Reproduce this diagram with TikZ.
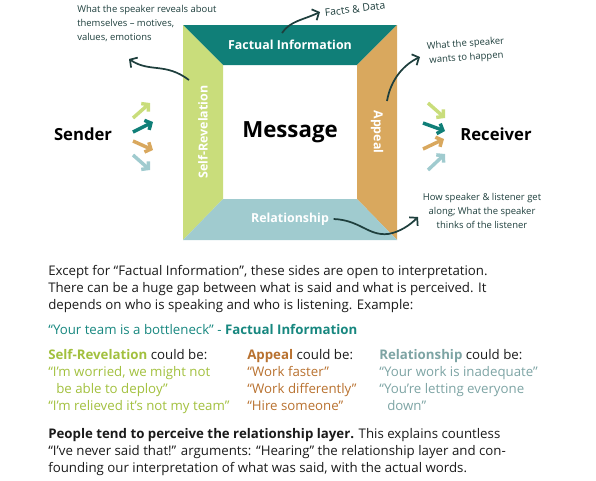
\documentclass[tikz,border=0pt]{standalone}
\usepackage{fontspec}
\setmainfont{Open Sans}
\usetikzlibrary{arrows.meta}

\definecolor{tealband}{HTML}{107F78}
\definecolor{greenband}{HTML}{C9DD7B}
\definecolor{orangeband}{HTML}{D9A85E}
\definecolor{blueband}{HTML}{A0CBCF}
\definecolor{notecol}{HTML}{1E3F3D}
\definecolor{bodycol}{HTML}{1A1A1A}
\definecolor{textgreen}{HTML}{A2C03E}
\definecolor{textorange}{HTML}{B8712F}
\definecolor{textblue}{HTML}{7DA4A4}
\definecolor{textteal}{HTML}{17877F}

\begin{document}
\begin{tikzpicture}[x=0.75pt,y=-0.75pt,
		band/.style={text=white,font=\bfseries\fontsize{9.3}{11}\selectfont},
		note/.style={text=notecol,inner sep=0pt,font=\fontsize{7.1}{10.5}\selectfont},
		hook/.style={notecol,line width=1.3pt,-{Straight Barb[length=4pt,width=9pt]}},
		flow/.style={line width=2.6pt,-{Straight Barb[length=3.5pt,width=8pt]}},
		body/.style={anchor=north west,inner sep=0pt,align=left,text=bodycol,font=\fontsize{9.95}{12.75}\selectfont}]
	\useasboundingbox (0,0) rectangle (596,480);
	
	% the four sides of the message
	\fill[tealband] (183,25) -- (397,25) -- (357,65) -- (223,65) -- cycle;
	\fill[greenband] (183,25) -- (223,65) -- (223,199) -- (183,240) -- cycle;
	\fill[orangeband] (397,25) -- (397,240) -- (357,199) -- (357,65) -- cycle;
	\fill[blueband] (183,240) -- (223,199) -- (357,199) -- (397,240) -- cycle;
	
	\node[band] (factual) at (290,45) {Factual Information};
	\node[band,rotate=90] (selfrev) at (203,132) {Self-Revelation};
	\node[band,rotate=-90] (appeal) at (377,132) {Appeal};
	\node[band] (relation) at (290,219) {Relationship};
	\node[font=\bfseries\fontsize{16.7}{20}\selectfont] (message) at (290,132) {Message};
	
	\node[font=\bfseries\fontsize{12.5}{14}\selectfont] (sender) at (83,134) {Sender};
	\node[font=\bfseries\fontsize{12.5}{14}\selectfont] (receiver) at (496,134) {Receiver};
	
	% sender and receiver arrows
	\draw[flow,greenband] (133,118) -- (150,103);
	\draw[flow,tealband] (133,132) -- (153,122);
	\draw[flow,orangeband] (133,141) -- (153,150);
	\draw[flow,blueband] (133,155) -- (150,170);
	
	\draw[flow,greenband] (428,103) -- (445,118);
	\draw[flow,tealband] (423,123) -- (445,131);
	\draw[flow,orangeband] (423,149) -- (444,139);
	\draw[flow,blueband] (428,170) -- (445,154);
	
	% notes
	\node[note,anchor=north west,align=left] (selfnote) at (77,5) {What the speaker reveals about\\themselves -- motives,\\values, emotions};
	\node[note,rotate=7,font=\fontsize{7.8}{10.5}\selectfont] (factsnote) at (355,9) {Facts \& Data};
	\node[note,rotate=4,align=center] (appealnote) at (466,51) {What the speaker\\wants to happen};
	\node[note,align=center] (relnote) at (482,211) {How speaker \& listener get\\along; What the speaker\\thinks of the listener};
	
	\coordinate (selfstart) at (189,80);
	\coordinate (selftip) at (129,59);
	\coordinate (factstart) at (282,33);
	\coordinate (facttip) at (320,12);
	\coordinate (appealstart) at (387,101);
	\coordinate (appealtip) at (420,57);
	\coordinate (reltip) at (418,217);
	
	\draw[hook] (selfstart) .. controls (165,62) and (150,73) .. (selftip);
	\draw[hook] (factstart) .. controls (290,21) and (303,20) .. (facttip);
	\draw[hook] (appealstart) .. controls (391,78) and (405,64) .. (appealtip);
	\draw[hook] (relation.east) .. controls (360,220) and (368,236) .. (388,234) .. controls (400,232) and (410,225) .. (reltip);
	
	% text below
	\node[body] (intro) at (48,265) {Except for “Factual Information”, these sides are open to interpretation.\\There can be a huge gap between what is said and what is perceived. It\\depends on who is speaking and who is listening. Example:};
	\node[body,text=textteal] (example) at (48,324) {“Your team is a bottleneck” - \textbf{Factual Information}};
	
	\node[body,text=textgreen] (selfcol) at (48,349) {\textbf{Self-Revelation} {\color{bodycol}could be:}\\“I’m worried, we might not\\\hspace*{6pt}be able to deploy”\\“I’m relieved it’s not my team”};
	\node[body,text=textorange] (appealcol) at (247,349) {\textbf{Appeal} {\color{bodycol}could be:}\\“Work faster”\\“Work differently”\\“Hire someone”};
	\node[body,text=textblue] (relcol) at (379,349) {\textbf{Relationship} {\color{bodycol}could be:}\\“Your work is inadequate”\\“You’re letting everyone\\\hspace*{6pt}down”};
	
	\node[body] (summary) at (48,428) {\textbf{People tend to perceive the relationship layer.} This explains countless\\“I’ve never said that!” arguments: “Hearing” the relationship layer and con-\\founding our interpretation of what was said, with the actual words.};
\end{tikzpicture}
\end{document}
